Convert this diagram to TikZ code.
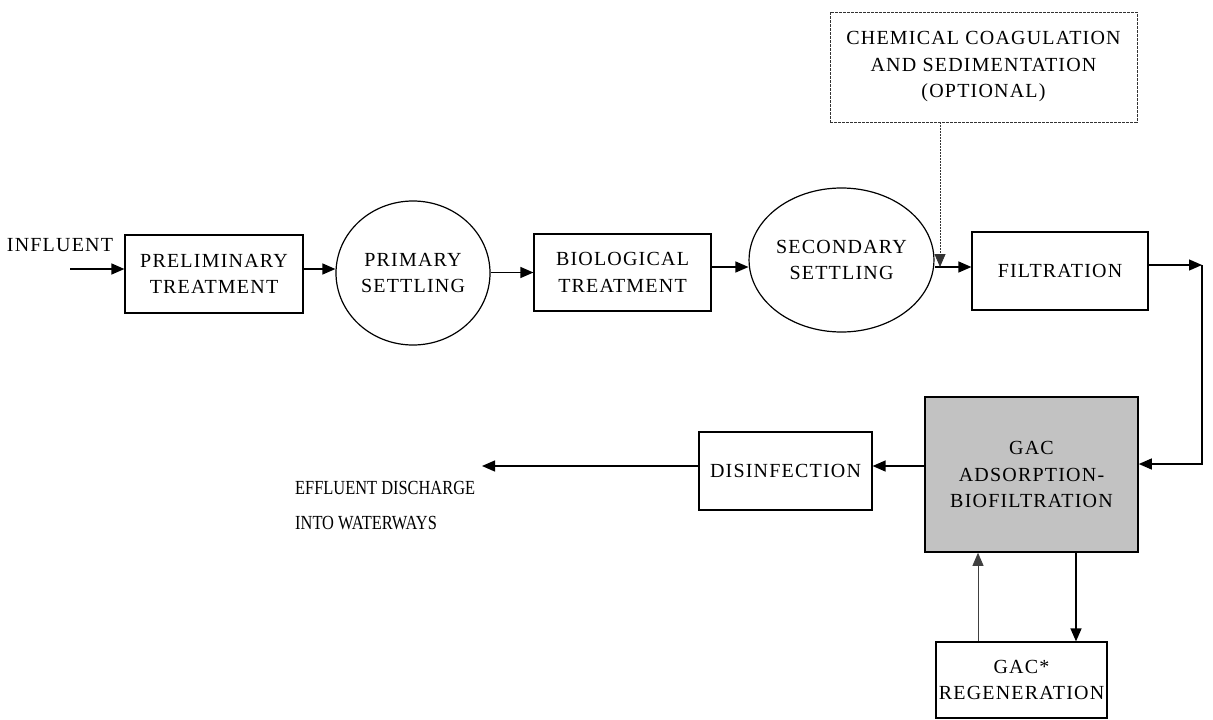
\documentclass[tikz,border=0pt]{standalone}
\usepackage{fontspec}
\setmainfont{Liberation Serif}[LetterSpace=6]
\newfontfamily\effont{Liberation Serif}[FakeStretch=0.82]
\usetikzlibrary{arrows.meta,shapes.geometric}
\begin{document}
\begin{tikzpicture}[x=1pt,y=-1pt,
 every node/.style={font=\fontsize{20}{26.5}\selectfont, align=center, inner sep=0pt},
 boxnode/.style={draw, line width=1.2pt, rectangle},
 circnode/.style={draw, line width=1.2pt, ellipse},
 flow/.style={line width=1.3pt, -{Triangle[length=13pt,width=11pt]}},
 dashflow/.style={line width=0.8pt, dash pattern=on 2pt off 1pt, draw=black!80, -{Triangle[length=13pt,width=11pt]}},
 gacfill/.style={fill=black!24},
]
\useasboundingbox (0,0) rectangle (1213,720);

\node[boxnode, minimum width=178pt, minimum height=78pt] (prelim) at (214,274) {PRELIMINARY\\TREATMENT};
\node[circnode, minimum width=154pt, minimum height=144pt] (primary) at (413,273) {PRIMARY\\SETTLING};
\node[boxnode, minimum width=177pt, minimum height=77pt] (bio) at (622.5,272.5) {BIOLOGICAL\\TREATMENT};
\node[circnode, minimum width=153pt, minimum height=144pt] (secondary) at (841.5,260) {SECONDARY\\SETTLING};
\node[boxnode, minimum width=176pt, minimum height=78pt] (filt) at (1060,271) {FILTRATION};
\node[draw=black!80, line width=0.9pt, dash pattern=on 3pt off 1pt, minimum width=307pt, minimum height=110pt] (chem) at (983.5,67) {CHEMICAL COAGULATION\\AND SEDIMENTATION\\(OPTIONAL)};
\node[boxnode, gacfill, line width=1.6pt, minimum width=213pt, minimum height=155pt] (gac) at (1031.5,474.5) {GAC\\ADSORPTION-\\BIOFILTRATION};
\node[boxnode, minimum width=173pt, minimum height=78pt] (disinf) at (785.5,471) {DISINFECTION};
\node[boxnode, minimum width=171pt, minimum height=76pt] (regen) at (1021.5,680) {GAC*\\REGENERATION};

\node (influent) at (60,245) {INFLUENT};
\node[align=left, anchor=north west, font=\effont\fontsize{20}{35}\selectfont] (effluent) at (295,481) {EFFLUENT DISCHARGE\\INTO WATERWAYS};

\coordinate (inf) at (70,269);
\coordinate (join) at (940,267);
\coordinate (cr) at (1202,265);
\coordinate (cr2) at (1202,464);
\coordinate (eff) at (482,466);
\coordinate (up) at (978,0);
\coordinate (dn) at (1076,0);

\draw[flow] (inf) -- (inf -| prelim.west);
\draw[flow] (prelim.east |- inf) -- (primary.west |- inf);
\draw[flow] (primary.east |- bio.west) -- (bio.west);
\draw[flow] (bio.east |- join) -- (secondary.west |- join);
\draw[flow] (secondary.east |- join) -- (filt.west |- join);
\draw[dashflow] (join |- chem.south) -- (join);
\draw[flow] (filt.east |- cr) -- (cr);
\draw[flow] (cr) -- (cr2) -- (gac.east |- cr2);
\draw[flow] (gac.west |- eff) -- (disinf.east |- eff);
\draw[flow] (disinf.west |- eff) -- (eff);
\draw[flow, line width=0.8pt, draw=black!75] (up |- regen.north) -- (up |- gac.south);
\draw[flow] (dn |- gac.south) -- (dn |- regen.north);
\end{tikzpicture}
\end{document}
